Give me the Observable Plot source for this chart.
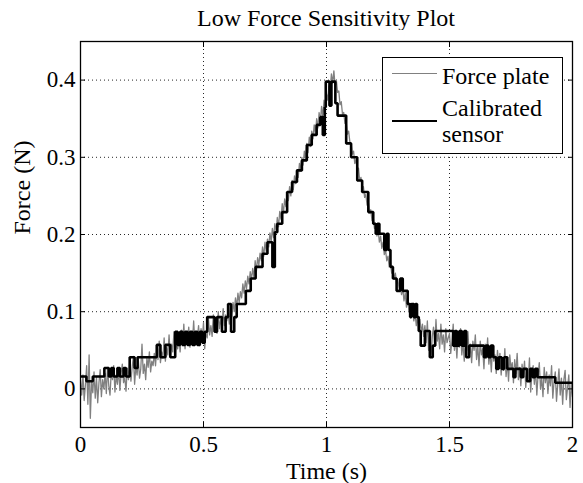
<!DOCTYPE html>
<html>
<head>
<meta charset="utf-8">
<script src="https://cdn.jsdelivr.net/npm/d3@7"></script>
<script src="https://cdn.jsdelivr.net/npm/@observablehq/plot@0.6"></script>
<style>
  html, body { margin: 0; padding: 0; background: #fff; }
  #wrap { position: relative; width: 583px; height: 483px; font-family: "Liberation Serif", "Times New Roman", serif; color: #000; overflow: hidden; }
  #title { position: absolute; left: 80px; width: 492px; top: 0; text-align: center; font-size: 24px; line-height: 24px; padding-top: 5.5px; }
  #chart { position: absolute; left: 0; top: 30px; }
  #legend { position: absolute; left: 382px; top: 57px; width: 179px; height: 95px; border: 1.3px solid #000; background: #fff; }
  #legend .sw { position: absolute; left: 9px; width: 45px; height: 0; }
  #legend .lt { position: absolute; left: 59px; font-size: 24px; line-height: 24px; white-space: nowrap; }
</style>
</head>
<body>
<div id="wrap">
  <div id="title">Low Force Sensitivity Plot</div>
  <div id="chart"></div>
  <div id="legend"></div>
</div>
<script>
// ---- axis ticks ----
const xTicks = [0, 0.5, 1, 1.5, 2];
const xTickLabels = ["0", "0.5", "1", "1.5", "2"];
const yTicks = [0, 0.1, 0.2, 0.3, 0.4];
const yTickLabels = ["0", "0.1", "0.2", "0.3", "0.4"];

// ---- series names ----
const seriesNames = ["Force plate", "Calibrated\nsensor"];

// ---- Force plate (sampled every 0.005 s from t = 0 to 2 s) ----
const plateStart = 0;
const plateStep = 0.005;
const plateForce = [
  0.012,-0.008,0.018,-0.015,0.005,0.030,-0.020,0.044,-0.038,0.010,-0.005,0.022,-0.012,0.015,-0.018,0.008,0.025,-0.010,0.012,0.000,
  0.020,-0.006,0.028,0.004,-0.008,0.022,0.012,0.030,-0.004,0.018,0.006,0.026,-0.002,0.020,0.032,0.008,0.015,-0.003,0.027,0.012,
  0.035,0.010,0.028,0.042,0.006,0.030,0.018,0.038,0.014,0.026,0.058,0.020,0.032,0.012,0.040,0.028,0.048,0.022,0.036,0.030,
  0.046,0.030,0.052,0.038,0.062,0.034,0.048,0.040,0.066,0.036,0.054,0.044,0.070,0.042,0.058,0.048,0.074,0.046,0.060,0.052,
  0.068,0.048,0.076,0.056,0.084,0.052,0.070,0.062,0.080,0.054,0.074,0.060,0.088,0.058,0.072,0.066,0.082,0.056,0.078,0.064,
  0.086,0.052,0.074,0.066,0.092,0.070,0.082,0.068,0.096,0.074,0.086,0.072,0.100,0.078,0.090,0.080,0.104,0.082,0.096,0.088,
  0.098,0.084,0.108,0.094,0.112,0.100,0.118,0.106,0.124,0.112,0.126,0.118,0.136,0.124,0.140,0.130,0.146,0.136,0.152,0.142,
  0.156,0.144,0.166,0.152,0.170,0.160,0.176,0.166,0.184,0.172,0.190,0.178,0.194,0.184,0.202,0.190,0.208,0.196,0.214,0.204,
  0.222,0.210,0.230,0.220,0.240,0.228,0.246,0.236,0.254,0.244,0.262,0.250,0.270,0.258,0.276,0.266,0.284,0.274,0.292,0.282,
  0.300,0.290,0.308,0.298,0.318,0.306,0.326,0.314,0.334,0.324,0.342,0.330,0.350,0.338,0.358,0.346,0.366,0.352,0.374,0.362,
  0.382,0.374,0.392,0.388,0.408,0.396,0.412,0.392,0.400,0.384,0.386,0.368,0.372,0.356,0.358,0.344,0.346,0.330,0.334,0.320,
  0.318,0.304,0.308,0.292,0.298,0.282,0.286,0.270,0.274,0.260,0.262,0.248,0.252,0.238,0.242,0.228,0.232,0.218,0.222,0.208,
  0.212,0.198,0.206,0.190,0.198,0.182,0.190,0.174,0.180,0.166,0.172,0.158,0.164,0.150,0.156,0.142,0.150,0.136,0.142,0.130,
  0.138,0.122,0.130,0.114,0.124,0.106,0.118,0.100,0.110,0.094,0.104,0.088,0.098,0.082,0.094,0.076,0.090,0.072,0.084,0.068,
  0.082,0.060,0.088,0.050,0.074,0.042,0.068,0.080,0.056,0.090,0.062,0.072,0.052,0.084,0.058,0.070,0.048,0.078,0.060,0.066,
  0.072,0.046,0.062,0.084,0.050,0.066,0.040,0.070,0.054,0.078,0.044,0.060,0.036,0.068,0.050,0.074,0.042,0.058,0.034,0.062,
  0.050,0.070,0.038,0.056,0.030,0.062,0.044,0.052,0.026,0.058,0.040,0.066,0.032,0.048,0.022,0.054,0.036,0.044,0.020,0.050,
  0.030,0.046,0.018,0.040,0.024,0.052,0.016,0.036,0.010,0.044,0.026,0.034,0.008,0.038,0.020,0.046,0.012,0.028,0.004,0.032,
  0.016,0.036,0.002,0.024,0.010,0.040,-0.004,0.020,0.030,0.006,0.026,-0.008,0.018,0.034,0.000,0.014,-0.010,0.028,0.008,0.022,
  -0.006,0.018,0.004,0.030,-0.012,0.010,0.022,-0.016,0.006,0.026,-0.008,0.014,-0.020,0.012,0.024,-0.014,0.002,0.018,-0.024,0.008,-0.010
];

// ---- Calibrated sensor (quantized steps: time of change, level) ----
const sensorTime = [
  0.000,0.024,0.050,0.097,0.115,0.125,0.135,0.150,0.160,0.175,0.185,0.200,0.220,0.232,0.310,0.325,0.345,0.365,0.385,0.395,
  0.405,0.415,0.425,0.435,0.445,0.455,0.465,0.475,0.485,0.495,0.505,0.515,0.545,0.555,0.575,0.590,0.600,0.612,0.625,0.635,
  0.672,0.692,0.712,0.740,0.760,0.780,0.790,0.800,0.820,0.840,0.860,0.880,0.900,0.920,0.940,0.960,0.975,0.985,0.993,0.997,
  1.012,1.020,1.036,1.045,1.080,1.100,1.125,1.145,1.170,1.190,1.200,1.207,1.215,1.235,1.245,1.252,1.260,1.270,1.285,1.300,
  1.310,1.330,1.340,1.345,1.355,1.362,1.368,1.375,1.383,1.400,1.420,1.432,1.442,1.515,1.522,1.530,1.540,1.550,1.560,1.568,
  1.580,1.640,1.648,1.658,1.668,1.678,1.690,1.700,1.712,1.722,1.735,1.760,1.768,1.790,1.800,1.815,1.828,1.838,1.848,1.858,
  1.930,2.000
];
const sensorForce = [
  0.016,0.010,0.016,0.027,0.016,0.027,0.016,0.027,0.016,0.027,0.016,0.041,0.027,0.041,0.057,0.041,0.057,0.041,0.074,0.057,
  0.074,0.057,0.074,0.057,0.074,0.057,0.074,0.057,0.074,0.060,0.074,0.093,0.074,0.093,0.074,0.093,0.110,0.074,0.093,0.110,
  0.127,0.143,0.158,0.175,0.190,0.158,0.203,0.214,0.229,0.255,0.268,0.283,0.296,0.316,0.329,0.342,0.352,0.329,0.365,0.398,
  0.367,0.398,0.370,0.354,0.318,0.300,0.270,0.255,0.229,0.214,0.201,0.214,0.201,0.180,0.201,0.180,0.158,0.143,0.127,0.143,
  0.127,0.110,0.093,0.110,0.093,0.110,0.093,0.075,0.056,0.075,0.041,0.056,0.075,0.056,0.075,0.056,0.075,0.056,0.075,0.041,
  0.056,0.041,0.056,0.041,0.056,0.041,0.026,0.041,0.026,0.041,0.026,0.015,0.026,0.015,0.026,0.010,0.026,0.015,0.026,0.015,
  0.008,0.008
];

// ---- colors ----
const plateColor = "#808080";
const sensorColor = "#000000";

const plateRows = plateForce.map((v, i) => ({t: plateStart + i * plateStep, f: v}));
const sensorRows = sensorTime.map((t, i) => ({t, f: sensorForce[i]}));

const serif = '"Liberation Serif", "Times New Roman", serif';

const chart = Plot.plot({
  width: 583,
  height: 453,
  marginLeft: 80,
  marginRight: 11,
  marginTop: 11,
  marginBottom: 56,
  x: {domain: [0, 2]},
  y: {domain: [-0.05, 0.45]},
  style: {fontFamily: serif, fontSize: "24px", color: "#000", background: "#fff", overflow: "visible"},
  marks: [
    Plot.gridX(xTicks, {stroke: "#000", strokeOpacity: 0.85, strokeWidth: 1, strokeDasharray: "1,3"}),
    Plot.gridY(yTicks, {stroke: "#000", strokeOpacity: 0.85, strokeWidth: 1, strokeDasharray: "1,3"}),
    Plot.line(plateRows, {x: "t", y: "f", stroke: plateColor, strokeWidth: 1.3, clip: true}),
    Plot.line(sensorRows, {x: "t", y: "f", curve: "step-after", stroke: sensorColor, strokeWidth: 2.6, strokeLinejoin: "miter", clip: true}),
    Plot.frame({stroke: "#000", strokeWidth: 1.3}),
    // inward tick marks on all four sides (labels drawn below as text)
    Plot.axisX(xTicks, {anchor: "bottom", tickSize: -5, tickFormat: () => "", label: null}),
    Plot.axisX(xTicks, {anchor: "top", tickSize: -5, tickFormat: () => "", label: null}),
    Plot.axisY(yTicks, {anchor: "left", tickSize: -5, tickFormat: () => "", label: null}),
    Plot.axisY(yTicks, {anchor: "right", tickSize: -5, tickFormat: () => "", label: null}),
    // tick labels
    Plot.text(xTicks, {x: d => d, text: (d, i) => xTickLabels[i], frameAnchor: "bottom", lineAnchor: "middle", dy: 17.6, fontSize: 23, fontFamily: serif}),
    Plot.text(yTicks, {y: d => d, text: (d, i) => yTickLabels[i], frameAnchor: "left", textAnchor: "end", lineAnchor: "middle", dx: -5, fontSize: 23, fontFamily: serif}),
    // axis titles
    Plot.text(["Time (s)"], {text: d => d, frameAnchor: "bottom", lineAnchor: "middle", dy: 43.8, fontSize: 24, fontFamily: serif}),
    Plot.text(["Force (N)"], {text: d => d, frameAnchor: "left", rotate: -90, dx: -58, fontSize: 24, fontFamily: serif})
  ]
});
document.getElementById("chart").appendChild(chart);

// ---- legend ----
const legend = document.getElementById("legend");
const legendItems = [
  {name: seriesNames[0], color: plateColor, width: 1.6, lineTop: 16, textTop: 6},
  {name: seriesNames[1], color: sensorColor, width: 2.8, lineTop: 63, textTop: 38}
];
for (const it of legendItems) {
  const sw = document.createElement("div");
  sw.className = "sw";
  sw.style.top = (it.lineTop - it.width / 2) + "px";
  sw.style.borderTop = `${it.width}px solid ${it.color}`;
  legend.appendChild(sw);
  const lines = it.name.split("\n");
  lines.forEach((ln, k) => {
    const tx = document.createElement("div");
    tx.className = "lt";
    tx.style.top = (it.textTop + k * 26) + "px";
    tx.textContent = ln;
    legend.appendChild(tx);
  });
}
</script>
</body>
</html>
